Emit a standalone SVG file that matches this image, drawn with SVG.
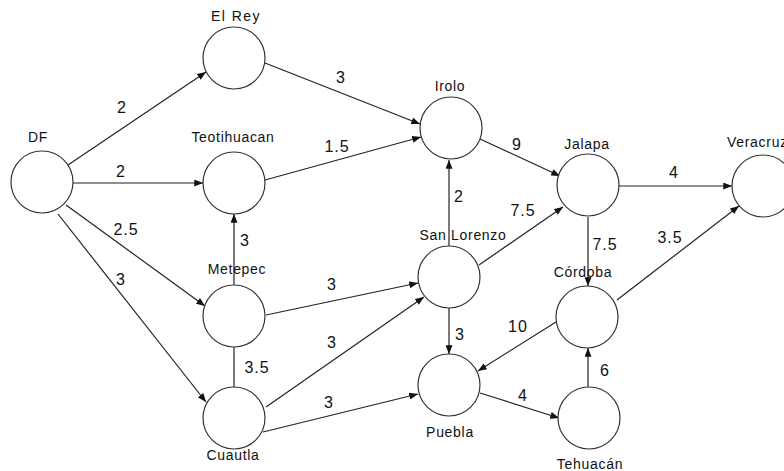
<svg xmlns="http://www.w3.org/2000/svg" width="784" height="471" viewBox="0 0 784 471">
<defs>
<marker id="ah" viewBox="0 0 10 8" refX="10" refY="4" markerWidth="9" markerHeight="7" markerUnits="userSpaceOnUse" orient="auto">
<path d="M0,0 L10,4 L0,8 z" fill="#111"/>
</marker>
</defs>
<style>
.n{fill:#fff;stroke:#333;stroke-width:1.2}
.l{font-family:"Liberation Sans",Arial,sans-serif;font-size:14px;letter-spacing:0.7px;fill:#111;text-anchor:middle}
.w{font-family:"Liberation Sans",Arial,sans-serif;font-size:16px;letter-spacing:1px;fill:#111;text-anchor:middle}
.e{stroke:#222;stroke-width:1.2;fill:none}
.a{marker-end:url(#ah)}
</style>
<rect width="784" height="471" fill="#fff"/>
<g id="connectors">
<line class="e a" x1="68" y1="165" x2="206" y2="72"/>
<line class="e a" x1="73" y1="183" x2="203" y2="183"/>
<line class="e a" x1="66" y1="205" x2="205" y2="306"/>
<line class="e a" x1="58" y1="214" x2="206" y2="402"/>
<line class="e a" x1="265" y1="63" x2="420" y2="124"/>
<line class="e a" x1="265" y1="180" x2="421" y2="137"/>
<line class="e a" x1="480" y1="139" x2="560" y2="176"/>
<line class="e a" x1="449" y1="246" x2="449" y2="160"/>
<line class="e a" x1="479" y1="265" x2="563" y2="207"/>
<line class="e a" x1="619" y1="186" x2="732" y2="186"/>
<line class="e a" x1="588" y1="217" x2="588" y2="286"/>
<line class="e a" x1="617" y1="300" x2="739" y2="206"/>
<line class="e a" x1="234" y1="285" x2="234" y2="214"/>
<line class="e a" x1="266" y1="315" x2="418" y2="283"/>
<line class="e" x1="234" y1="347" x2="234" y2="387"/>
<line class="e a" x1="266" y1="407" x2="424" y2="297"/>
<line class="e a" x1="263" y1="432" x2="418" y2="394"/>
<line class="e a" x1="449" y1="308" x2="449" y2="354"/>
<line class="e a" x1="556" y1="322" x2="478" y2="371"/>
<line class="e a" x1="480" y1="393" x2="559" y2="418"/>
<line class="e a" x1="588" y1="387" x2="588" y2="348"/>
</g>
<g id="DF"><circle class="n" cx="42" cy="182" r="31"/><text class="l" x="38" y="142">DF</text></g>
<g id="ElRey"><circle class="n" cx="234" cy="58" r="31"/><text class="l" x="236" y="21" style="letter-spacing:1.5px">El Rey</text></g>
<g id="Teotihuacan"><circle class="n" cx="234" cy="183" r="31"/><text class="l" x="233" y="142">Teotihuacan</text></g>
<g id="Metepec"><circle class="n" cx="234" cy="316" r="31"/><text class="l" x="237" y="274">Metepec</text></g>
<g id="Cuautla"><circle class="n" cx="234" cy="418" r="31"/><text class="l" x="233" y="460">Cuautla</text></g>
<g id="Irolo"><circle class="n" cx="451" cy="128" r="31"/><text class="l" x="450" y="91">Irolo</text></g>
<g id="SanLorenzo"><circle class="n" cx="449" cy="277" r="31"/><text class="l" x="463" y="240">San Lorenzo</text></g>
<g id="Puebla"><circle class="n" cx="449" cy="385" r="31"/><text class="l" x="450" y="437">Puebla</text></g>
<g id="Jalapa"><circle class="n" cx="588" cy="185" r="31"/><text class="l" x="587" y="149">Jalapa</text></g>
<g id="Cordoba"><circle class="n" cx="587" cy="317" r="31"/><text class="l" x="583" y="277">Córdoba</text></g>
<g id="Tehuacan"><circle class="n" cx="589" cy="418" r="31"/><text class="l" x="590" y="469">Tehuacán</text></g>
<g id="Veracruz"><circle class="n" cx="763" cy="186" r="31"/><text class="l" x="727" y="147" style="text-anchor:start">Veracruz</text></g>
<g id="weights">
<text class="w" x="122" y="113">2</text>
<text class="w" x="121" y="177">2</text>
<text class="w" x="126" y="235">2.5</text>
<text class="w" x="121" y="285">3</text>
<text class="w" x="245" y="246">3</text>
<text class="w" x="257" y="373">3.5</text>
<text class="w" x="341" y="83">3</text>
<text class="w" x="337" y="152">1.5</text>
<text class="w" x="517" y="150">9</text>
<text class="w" x="459" y="202">2</text>
<text class="w" x="523" y="216">7.5</text>
<text class="w" x="674" y="178">4</text>
<text class="w" x="605" y="250">7.5</text>
<text class="w" x="670" y="243">3.5</text>
<text class="w" x="332" y="290">3</text>
<text class="w" x="332" y="348">3</text>
<text class="w" x="329" y="408">3</text>
<text class="w" x="460" y="340">3</text>
<text class="w" x="518" y="332">10</text>
<text class="w" x="523" y="401">4</text>
<text class="w" x="605" y="376">6</text>
</g>
</svg>
